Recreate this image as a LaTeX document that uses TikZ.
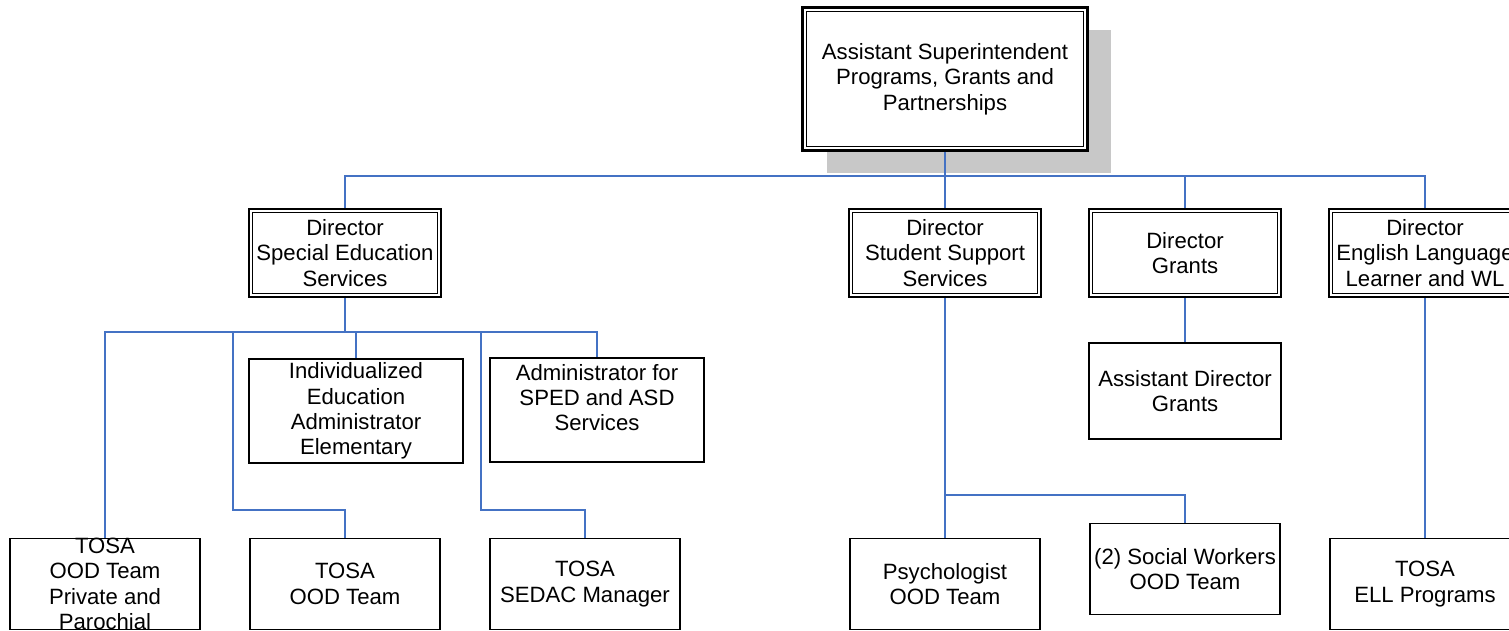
\documentclass[tikz,border=0pt]{standalone}
\usepackage{fontspec}
\setmainfont{Liberation Sans}
\usetikzlibrary{shadows}
\definecolor{LineBlue}{RGB}{68,114,196}
\definecolor{ShadowGray}{RGB}{200,200,200}

\begin{document}
\begin{tikzpicture}[x=0.02cm,y=-0.02cm]
   \tikzset{VertexStyle/.style = {draw, line width=0.9pt, fill=white, inner sep=0pt,
                                  align=center, font=\fontsize{12.6}{14.4}\selectfont},
            BossStyle/.style   = {VertexStyle, line width=1.6pt,
                                  minimum width=5.7cm, minimum height=2.86cm},
            HeadStyle/.style   = {VertexStyle, line width=1.2pt,
                                  minimum width=3.84cm, minimum height=1.76cm},
            EdgeStyle/.style   = {draw=LineBlue, line width=1.1pt}}
   \useasboundingbox (0,0) rectangle (1509,631);
   \clip (0,0) rectangle (1509,631);
   \node[BossStyle, drop shadow={shadow xshift=0.48cm, shadow yshift=-0.45cm,
         fill=ShadowGray, opacity=1}] (AS) at (945,79)
        {Assistant Superintendent\\Programs, Grants and\\Partnerships};
   \draw[line width=1pt] ([shift={(3.1pt,-3.1pt)}]AS.north west) rectangle ([shift={(-3.1pt,3.1pt)}]AS.south east);
   \node[HeadStyle] (DS)  at (345,253)  {Director\\Special Education\\Services};
   \node[HeadStyle] (DSS) at (945,253)  {Director\\Student Support\\Services};
   \node[HeadStyle] (DG)  at (1185,253) {Director\\Grants};
   \node[HeadStyle] (DE)  at (1425,253) {Director\\English Language\\Learner and WL};
   \foreach \n in {DS,DSS,DG,DE}
      \draw[line width=0.6pt] ([shift={(2.8pt,-2.8pt)}]\n.north west) rectangle ([shift={(-2.8pt,2.8pt)}]\n.south east);
   \tikzset{VertexStyle/.append style = {minimum width=4.28cm, minimum height=2.08cm}}
   \node[VertexStyle] (IE) at (356,411) {Individualized\\Education\\Administrator\\Elementary};
   \node[VertexStyle] (AD) at (597,410) {Administrator for\\SPED and ASD\\Services\\\mbox{}};
   \tikzset{VertexStyle/.append style = {minimum width=3.84cm, minimum height=1.92cm}}
   \node[VertexStyle] (AG) at (1185,391) {Assistant Director\\Grants};
   \tikzset{VertexStyle/.append style = {minimum width=3.8cm, minimum height=1.82cm}}
   \node[VertexStyle, inner ysep=-4pt] (TP) at (105,584) {TOSA\\OOD Team\\Private and\\Parochial};
   \node[VertexStyle] (TO) at (345,584)  {TOSA\\OOD Team};
   \node[VertexStyle] (TS) at (585,584)  {TOSA\\SEDAC Manager};
   \node[VertexStyle] (PS) at (945,584)  {Psychologist\\OOD Team};
   \node[VertexStyle] (SW) at (1185,569) {(2) Social Workers\\OOD Team};
   \node[VertexStyle] (TE) at (1425,584) {TOSA\\ELL Programs};
   \coordinate (B1) at (945,176);
   \coordinate (B2) at (345,332);
   \coordinate (B3) at (233,510);
   \coordinate (B4) at (481,510);
   \coordinate (B5) at (945,495);
   \draw[EdgeStyle] (AS) -- (DSS);
   \draw[EdgeStyle] (DS.north) |- (B1) -| (DE.north);
   \draw[EdgeStyle] (B1) -| (DG.north);
   \draw[EdgeStyle] (DS) -- (B2);
   \draw[EdgeStyle] (TP.north) |- (B2) -| (AD.north);
   \draw[EdgeStyle] (B2 -| IE.north) -- (IE.north);
   \draw[EdgeStyle] (B3 |- B2) -- (B3) -| (TO.north);
   \draw[EdgeStyle] (B4 |- B2) -- (B4) -| (TS.north);
   \draw[EdgeStyle] (DSS) -- (PS);
   \draw[EdgeStyle] (B5) -| (SW.north);
   \draw[EdgeStyle] (DG) -- (AG);
   \draw[EdgeStyle] (DE) -- (TE);
\end{tikzpicture}
\end{document}
